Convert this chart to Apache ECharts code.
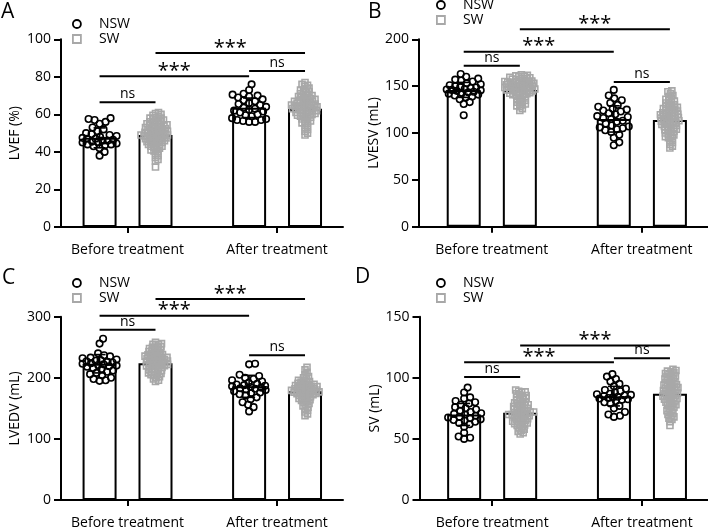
<!DOCTYPE html>
<html>
<head>
<meta charset="utf-8">
<script src="https://cdn.jsdelivr.net/npm/echarts@6/dist/echarts.min.js"></script>
<style>
  html, body { margin: 0; padding: 0; background: #fff; }
  #chart { width: 708px; height: 530px; }
</style>
</head>
<body>
<div id="chart"></div>
<script>
const categories = ['Before treatment', 'After treatment'];

// A - LVEF (%)
const lvefNswBefore = [58, 57.5, 57, 56, 55, 53, 52, 51, 50, 49.5, 49, 48.5, 48, 47.5, 47, 47, 46.5, 46, 46, 45.5, 45, 45, 44.5, 44, 44, 43.5, 43, 42, 40, 38];
const lvefSwBefore = [61, 60.5, 60, 59.5, 59, 58.5, 58, 58, 57.5, 57, 57, 56.5, 56, 56, 55.5, 55, 55, 54.5, 54.5, 54, 54, 53.5, 53.5, 53, 53, 52.5, 52.5, 52, 52, 51.5, 51.5, 51, 51, 50.5, 50.5, 50, 50, 50, 49.5, 49.5, 49, 49, 49, 48.5, 48.5, 48, 48, 48, 47.5, 47.5, 47, 47, 46.5, 46.5, 46, 46, 45.5, 45.5, 45, 45, 44.5, 44, 44, 43.5, 43, 43, 42.5, 42, 41.5, 41, 40.5, 40, 39, 38, 37, 36, 35, 32];
const lvefNswAfter = [76, 73, 71, 70.5, 70, 69.5, 69, 68, 67.5, 67, 66, 65.5, 65, 64, 63.5, 63, 62.5, 62, 61.5, 61, 60, 59.5, 59, 58, 57.5, 57, 57, 56.5, 56, 56];
const lvefSwAfter = [77, 76, 75.5, 75, 74, 73.5, 73, 72.5, 72, 71.5, 71, 70.5, 70, 70, 69.5, 69, 69, 68.5, 68, 68, 67.5, 67.5, 67, 67, 66.5, 66.5, 66, 66, 65.5, 65.5, 65, 65, 65, 64.5, 64.5, 64, 64, 64, 63.5, 63.5, 63, 63, 63, 62.5, 62.5, 62, 62, 61.5, 61.5, 61, 61, 60.5, 60.5, 60, 60, 59.5, 59, 59, 58.5, 58, 57.5, 57, 56.5, 56, 55.5, 55, 54, 53, 52, 51, 50, 49];
const lvefMeans = [47.5, 49, 63.5, 63];
const lvefSd = [5.3, 5.5, 5.2, 5.5];

// B - LVESV (mL)
const lvesvNswBefore = [163, 160, 158, 157, 156, 155, 153, 152, 151, 150, 149, 148.5, 148, 147, 146.5, 146, 145.5, 145, 144, 143.5, 143, 142, 141, 140, 139, 138, 136, 133, 131, 119];
const lvesvSwBefore = [162, 161.5, 161, 160.5, 160, 159.5, 159, 158.5, 158, 157.5, 157, 156.5, 156, 155.5, 155, 155, 154.5, 154, 154, 153.5, 153, 153, 152.5, 152, 152, 151.5, 151, 151, 150.5, 150, 150, 149.5, 149, 149, 148.5, 148, 148, 147.5, 147, 147, 146.5, 146, 146, 145.5, 145, 145, 144.5, 144, 143.5, 143, 142.5, 142, 141.5, 141, 140.5, 140, 139, 138, 137, 136, 135, 134, 133, 132, 131, 130, 129, 128, 126, 124];
const lvesvNswAfter = [146, 140, 137, 135, 132, 130, 128, 126, 125, 124, 123, 121, 120, 118, 117, 116, 115, 113, 112, 110, 108, 107, 106, 105, 104, 103, 101, 98, 95, 90, 87];
const lvesvSwAfter = [145, 144, 142, 140, 139, 137, 136, 135, 134, 133, 132, 131, 130, 129, 128, 127.5, 127, 126, 125.5, 125, 124, 123.5, 123, 122, 121.5, 121, 120.5, 120, 119.5, 119, 118.5, 118, 117.5, 117, 116.5, 116, 115.5, 115, 114.5, 114, 113.5, 113, 112.5, 112, 111.5, 111, 110.5, 110, 109, 108.5, 108, 107, 106.5, 106, 105, 104, 103.5, 103, 102, 101, 100, 99, 98, 97, 96, 95, 94, 92, 90, 88, 86, 84];
const lvesvMeans = [146, 146, 115, 114];
const lvesvSd = [8, 8, 14, 13];

// C - LVEDV (mL)
const lvedvNswBefore = [264, 256, 240, 237, 235, 233, 232, 230, 229, 228, 227, 226, 225, 224, 223, 222, 221, 220, 219, 218, 216, 214, 212, 210, 208, 206, 204, 200, 198, 196, 195];
const lvedvSwBefore = [258, 256, 255, 254, 252, 251, 250, 249, 248, 247, 246, 245, 244, 243, 242, 241, 240, 239, 238, 237.5, 237, 236, 235.5, 235, 234, 233.5, 233, 232, 231.5, 231, 230, 229.5, 229, 228, 227.5, 227, 226, 225.5, 225, 224, 223.5, 223, 222, 221.5, 221, 220, 219.5, 219, 218, 217, 216, 215, 214, 213, 212, 211, 210, 209, 208, 207, 206, 205, 204, 202, 200, 198, 196, 194];
const lvedvNswAfter = [223, 222, 205, 203, 200, 198, 196, 194, 192, 190, 189, 188, 187, 186, 185, 184, 183, 182, 181, 180, 178, 176, 175, 173, 171, 168, 165, 160, 156, 152, 145];
const lvedvSwAfter = [217, 213, 209, 205, 202, 200, 198, 196, 195, 194, 193, 192, 191, 190, 189.5, 189, 188, 187.5, 187, 186, 185.5, 185, 184, 183.5, 183, 182, 181.5, 181, 180.5, 180, 179.5, 179, 178.5, 178, 177.5, 177, 176.5, 176, 175.5, 175, 174.5, 174, 173, 172.5, 172, 171, 170, 169, 168, 167, 166, 165, 164, 163, 162, 160, 158, 156, 154, 152, 150, 147, 144, 141, 138];
const lvedvMeans = [223, 224, 186, 178];
const lvedvSd = [15, 15, 18, 15];

// D - SV (mL)
const svNswBefore = [92, 88, 84, 83, 81, 80, 79, 78, 76, 75, 74, 73, 72, 71, 70.5, 70, 69, 68, 67.5, 67, 66, 65.5, 65, 64, 63, 62, 60, 55, 52, 51, 50];
const svSwBefore = [90, 89, 88.5, 88, 87, 86, 85.5, 85, 84, 83.5, 83, 82, 81.5, 81, 80, 79.5, 79, 78.5, 78, 77.5, 77, 76.5, 76, 75.5, 75, 74.5, 74, 73.5, 73, 72.5, 72, 72, 71.5, 71, 71, 70.5, 70, 70, 69.5, 69, 69, 68.5, 68, 67.5, 67, 66.5, 66, 65.5, 65, 64.5, 64, 63.5, 63, 62.5, 62, 61.5, 61, 60, 59, 58, 57, 56, 55, 54];
const svNswAfter = [103, 101, 99, 97, 95, 93, 91, 90, 89, 88, 87, 86.5, 86, 85.5, 85, 84.5, 84, 83.5, 83, 82.5, 82, 81, 80, 79, 77, 75, 72, 70, 69, 68];
const svSwAfter = [107, 106, 105.5, 105, 104, 103.5, 103, 102, 101.5, 101, 100, 99.5, 99, 98, 97.5, 97, 96, 95.5, 95, 94.5, 94, 93.5, 93, 92.5, 92, 91.5, 91, 90.5, 90, 89.5, 89, 88.5, 88, 87.5, 87, 86.5, 86, 85.5, 85, 84.5, 84, 83.5, 83, 82.5, 82, 81.5, 81, 80, 79.5, 79, 78, 77.5, 77, 76, 75, 74, 73, 72, 71, 70, 69, 68, 67, 66, 64, 61];
const svMeans = [70, 71.5, 85, 87];
const svSd = [9, 8, 8, 10];

// significance brackets: [from bar, to bar, level, label]; bars 0..3 = NSW/SW before, NSW/SW after
const lvefSig = [[0, 1, 66.4, 'ns'], [0, 2, 80.3, '***'], [1, 3, 92.7, '***'], [2, 3, 83.1, 'ns']];
const lvesvSig = [[0, 1, 171.8, 'ns'], [0, 2, 186.8, '***'], [1, 3, 210.7, '***'], [2, 3, 154.4, 'ns']];
const lvedvSig = [[0, 1, 278.7, 'ns'], [0, 2, 301.6, '***'], [1, 3, 328.8, '***'], [2, 3, 237, 'ns']];
const svSig = [[0, 1, 100.6, 'ns'], [0, 2, 112.7, '***'], [1, 3, 126.5, '***'], [2, 3, 115.9, 'ns']];

const FONT = 'Open Sans';
const SW_GRAY = '#a8a8a8';

const panels = [
  { letter: 'A', yName: 'LVEF (%)', yMax: 100, step: 20, nsw: [lvefNswBefore, lvefNswAfter], sw: [lvefSwBefore, lvefSwAfter], means: lvefMeans, sd: lvefSd, sig: lvefSig,
    grid: { left: 61, top: 39.3, width: 282, height: 187.7 }, xMin: 0.555, xMax: 2.441, nameGap: 39, legend: [72, 17], title: [1, 2] },
  { letter: 'B', yName: 'LVESV (mL)', yMax: 200, step: 50, nsw: [lvesvNswBefore, lvesvNswAfter], sw: [lvesvSwBefore, lvesvSwAfter], means: lvesvMeans, sd: lvesvSd, sig: lvesvSig,
    grid: { left: 419, top: 39.3, width: 289, height: 187.4 }, xMin: 0.515, xMax: 2.441, nameGap: 33, legend: [436, -2], title: [368, 2] },
  { letter: 'C', yName: 'LVEDV (mL)', yMax: 300, step: 100, nsw: [lvedvNswBefore, lvedvNswAfter], sw: [lvedvSwBefore, lvedvSwAfter], means: lvedvMeans, sd: lvedvSd, sig: lvedvSig,
    grid: { left: 61, top: 316.7, width: 282, height: 187.3 }, xMin: 0.555, xMax: 2.441, nameGap: 39, legend: [72, 276], title: [2, 268] },
  { letter: 'D', yName: 'SV (mL)', yMax: 150, step: 50, nsw: [svNswBefore, svNswAfter], sw: [svSwBefore, svSwAfter], means: svMeans, sd: svSd, sig: svSig,
    grid: { left: 419.5, top: 316.7, width: 288.5, height: 187.3 }, xMin: 0.515, xMax: 2.441, nameGap: 33, legend: [436, 276], title: [355, 267] }
];

const BAR_OFF = 0.187;
function barX(k) { return Math.floor(k / 2) + 1 + (k % 2 ? BAR_OFF : -BAR_OFF); }

// deterministic beeswarm: place sorted values at the nearest free horizontal offset (px)
function swarm(vals, pxPerY, d, maxHalf) {
  const sorted = vals.slice().sort((a, b) => a - b);
  const placed = [];
  return sorted.map(v => {
    const y = v * pxPerY;
    let best = 0, bestScore = -1;
    for (let k = 0; ; k++) {
      const off = (k % 2 ? 1 : -1) * Math.ceil(k / 2) * 0.5;
      if (Math.abs(off) > maxHalf) break;
      let minD = Infinity;
      for (const p of placed) {
        const dy = p.y - y;
        if (Math.abs(dy) < d) minD = Math.min(minD, Math.hypot(p.x - off, dy));
      }
      if (minD >= d) { best = off; break; }
      if (minD > bestScore) { bestScore = minD; best = off; }
    }
    placed.push({ x: best, y: y });
    return [best, v];
  });
}

const option = {
  animation: false,
  textStyle: { fontFamily: FONT, color: '#000' },
  title: [], legend: [], grid: [], xAxis: [], yAxis: [], series: []
};

panels.forEach((p, i) => {
  const pxPerX = p.grid.width / (p.xMax - p.xMin);
  const pxPerY = p.grid.height / p.yMax;

  option.title.push({ text: p.letter, left: p.title[0], top: p.title[1], padding: 0,
    textStyle: { fontFamily: FONT, fontSize: 21, fontWeight: 'normal', color: '#000' } });

  option.legend.push({
    orient: 'vertical', left: p.legend[0], top: p.legend[1], padding: 0, itemGap: 1,
    itemWidth: 8, itemHeight: 8, selectedMode: false,
    textStyle: { fontFamily: FONT, fontSize: 14, color: '#000', lineHeight: 14, padding: [0, 0, 0, 13] },
    data: [
      { name: 'NSW', icon: 'circle', itemStyle: { color: 'rgba(0,0,0,0)', borderColor: '#000', borderWidth: 1.8 } },
      { name: 'SW', icon: 'rect', itemStyle: { color: 'rgba(0,0,0,0)', borderColor: SW_GRAY, borderWidth: 1.8 } }
    ]
  });

  option.grid.push(Object.assign({ containLabel: false }, p.grid));

  option.xAxis.push({
    type: 'value', gridIndex: i, min: p.xMin, max: p.xMax,
    splitLine: { show: false },
    axisLine: { show: true, lineStyle: { color: '#000', width: 2 } },
    axisTick: { show: true, customValues: [1, 2], length: 6, lineStyle: { color: '#000', width: 2 } },
    axisLabel: { show: true, customValues: [1, 2], margin: 16, fontFamily: FONT, fontSize: 14, color: '#000',
      formatter: v => categories[Math.round(v) - 1] }
  });

  option.yAxis.push({
    type: 'value', gridIndex: i, min: 0, max: p.yMax, interval: p.step,
    name: p.yName, nameLocation: 'middle', nameGap: p.nameGap,
    nameTextStyle: { fontFamily: FONT, fontSize: 14, color: '#000' },
    splitLine: { show: false },
    axisLine: { show: true, lineStyle: { color: '#000', width: 2 } },
    axisTick: { show: true, length: 7, lineStyle: { color: '#000', width: 2 } },
    axisLabel: { margin: 10, fontFamily: FONT, fontSize: 14, color: '#000' }
  });

  // bars (means)
  option.series.push({
    type: 'bar', xAxisIndex: i, yAxisIndex: i, barWidth: 34, silent: true, z: 1,
    data: p.means.map((m, k) => [barX(k), m]),
    itemStyle: { color: '#fff', borderColor: '#000', borderWidth: 2 }
  });

  // individual points
  const nswPts = [], swPts = [];
  [0, 1].forEach(g => {
    swarm(p.nsw[g], pxPerY, 6, 17).forEach(([o, v]) => nswPts.push([barX(2 * g) + o / pxPerX, v]));
    swarm(p.sw[g], pxPerY, 3.1, 15).forEach(([o, v]) => swPts.push([barX(2 * g + 1) + o / pxPerX, v]));
  });
  option.series.push({
    name: 'NSW', type: 'scatter', xAxisIndex: i, yAxisIndex: i, symbol: 'circle', symbolSize: 6.5, z: 3, silent: true,
    data: nswPts, itemStyle: { color: 'rgba(255,255,255,0)', borderColor: '#000', borderWidth: 1.6, opacity: 1 }
  });
  option.series.push({
    name: 'SW', type: 'scatter', xAxisIndex: i, yAxisIndex: i, symbol: 'rect', symbolSize: 6, z: 2, silent: true,
    data: swPts, itemStyle: { color: 'rgba(255,255,255,0)', borderColor: SW_GRAY, borderWidth: 1.6, opacity: 1 }
  });

  // error bars (mean +/- SD)
  option.series.push({
    type: 'custom', xAxisIndex: i, yAxisIndex: i, z: 4, silent: true,
    data: p.means.map((m, k) => [barX(k), m, p.sd[k]]),
    renderItem: (params, api) => {
      const x = api.value(0), m = api.value(1), s = api.value(2);
      const hi = api.coord([x, m + s]), lo = api.coord([x, m - s]);
      const col = params.dataIndex % 2 ? SW_GRAY : '#000';
      const st = { stroke: col, lineWidth: 1.6 };
      return { type: 'group', children: [
        { type: 'line', shape: { x1: hi[0], y1: hi[1], x2: lo[0], y2: lo[1] }, style: st },
        { type: 'line', shape: { x1: hi[0] - 6, y1: hi[1], x2: hi[0] + 6, y2: hi[1] }, style: st },
        { type: 'line', shape: { x1: lo[0] - 6, y1: lo[1], x2: lo[0] + 6, y2: lo[1] }, style: st }
      ] };
    }
  });

  // significance brackets
  option.series.push({
    type: 'custom', xAxisIndex: i, yAxisIndex: i, z: 5, silent: true, clip: false,
    data: p.sig.map(s => [barX(s[0]), barX(s[1]), s[2]]),
    renderItem: (params, api) => {
      const a = api.coord([api.value(0), api.value(2)]);
      const b = api.coord([api.value(1), api.value(2)]);
      const label = p.sig[params.dataIndex][3];
      const star = label === '***';
      return { type: 'group', children: [
        { type: 'line', shape: { x1: a[0], y1: a[1], x2: b[0], y2: b[1] }, style: { stroke: '#000', lineWidth: 2 } },
        { type: 'text', x: (a[0] + b[0]) / 2, y: a[1] + (star ? 5 : -1),
          style: { text: label, fill: '#000', fontFamily: FONT, fontSize: star ? 20 : 14,
            align: 'center', verticalAlign: 'bottom', textAlign: 'center', textVerticalAlign: 'bottom' } }
      ] };
    }
  });
});

const chart = echarts.init(document.getElementById('chart'));
chart.setOption(option);
</script>
</body>
</html>
